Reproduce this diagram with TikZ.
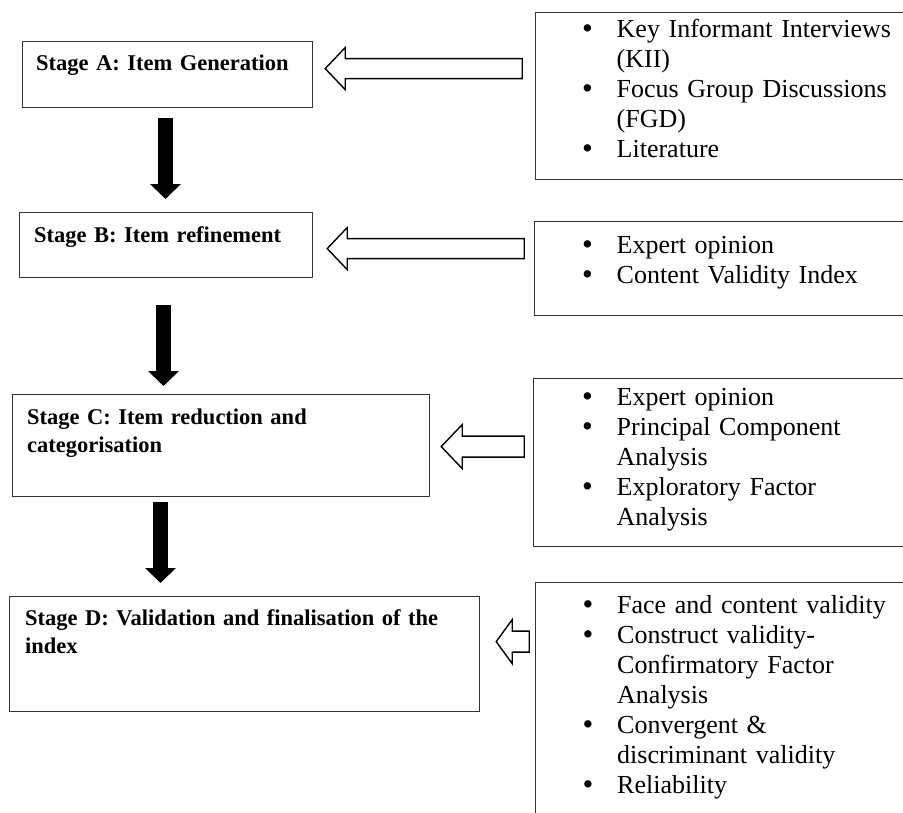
\documentclass[tikz,border=0pt]{standalone}
\usepackage{fontspec}
\setmainfont{Liberation Serif}
\usetikzlibrary{arrows.meta}
\tikzset{
  stagebox/.style={draw=black!80, line width=1.2pt, anchor=north west, inner sep=0pt},
  srcbox/.style={draw=black!80, line width=1.2pt, anchor=north west, inner sep=0pt},
  stagetext/.style={anchor=base west, inner sep=0pt, text width=460pt, align=left,
    font=\fontsize{22.5}{28}\selectfont\bfseries},
  srctext/.style={anchor=base west, inner sep=0pt, text width=330pt, align=left,
    font=\fontsize{26}{30}\selectfont},
  downarrow/.style={line width=15pt, -{Triangle[width=30pt,length=15pt]}},
  hollow/.style={draw=black, line width=1.4pt, fill=white, line join=miter}
}
\newcommand{\bul}{\makebox[34pt][l]{\hspace*{-0.5pt}\raisebox{-1.5pt}{\scalebox{1.18}{\textbullet}}}}
\newcommand{\indt}{\hspace*{34pt}}

\begin{document}
\begin{tikzpicture}[x=1pt,y=-1pt]
        \useasboundingbox (0,0) rectangle (903,812);
        \fill[white] (0,0) rectangle (903,812);
        \clip (0,0) rectangle (903,812);
        % stages
        \node[stagebox, minimum width=290, minimum height=66] (stageA) at (22,41) {};
        \node[stagebox, minimum width=293, minimum height=65] (stageB) at (19,212) {};
        \node[stagebox, minimum width=417, minimum height=102] (stageC) at (12,394) {};
        \node[stagebox, minimum width=470, minimum height=115] (stageD) at (9,596) {};
        \node[stagetext] (titleA) at (36,70) {Stage A: Item Generation};
        \node[stagetext] (titleB) at (34,242) {Stage B: Item refinement};
        \node[stagetext] (titleC) at (27,424) {Stage C: Item reduction and\\categorisation};
        \node[stagetext] (titleD) at (25,625) {Stage D: Validation and finalisation of the\\index};
        % sources
        \node[srcbox, minimum width=380, minimum height=167] (srcA) at (535,12) {};
        \node[srcbox, minimum width=380, minimum height=94] (srcB) at (534,221) {};
        \node[srcbox, minimum width=380, minimum height=168] (srcC) at (533,378) {};
        \node[srcbox, minimum width=380, minimum height=240] (srcD) at (535,582) {};
        \node[srctext] (listA) at (582.5,37) {\bul Key Informant Interviews\\\indt(KII)\\\bul Focus Group Discussions\\\indt(FGD)\\\bul Literature};
        \node[srctext] (listB) at (582.5,253) {\bul Expert opinion\\\bul Content Validity Index};
        \node[srctext] (listC) at (582.5,405) {\bul Expert opinion\\\bul Principal Component\\\indt Analysis\\\bul Exploratory Factor\\\indt Analysis};
        \node[srctext] (listD) at (583,613) {\bul Face and content validity\\\bul Construct validity-\\\indt Confirmatory Factor\\\indt Analysis\\\bul Convergent \&\\\indt discriminant validity\\\bul Reliability};
        % flow down
        \draw[downarrow] ([xshift=143.5pt,yshift=-10pt]stageA.south west) -- ([xshift=146.5pt,yshift=13pt]stageB.north west);
        \draw[downarrow] ([xshift=144.5pt,yshift=-27pt]stageB.south west) -- ([xshift=151.5pt,yshift=8pt]stageC.north west);
        \draw[downarrow] ([xshift=148.5pt,yshift=-5pt]stageC.south west) -- ([xshift=151.5pt,yshift=13pt]stageD.north west);
        % inputs
        \draw[hollow] ([xshift=12pt,yshift=6pt]stageA.east) -- ++(20,-21) -- ++(0,11) -- ++(177,0) -- ++(0,20) -- ++(-177,0) -- ++(0,11) -- cycle;
        \draw[hollow] ([xshift=14pt,yshift=-3.5pt]stageB.east) -- ++(20,-21) -- ++(0,11) -- ++(177,0) -- ++(0,20) -- ++(-177,0) -- ++(0,11) -- cycle;
        \draw[hollow] ([xshift=11pt,yshift=-1pt]stageC.east) -- ++(21,-22) -- ++(0,11.5) -- ++(62,0) -- ++(0,21) -- ++(-62,0) -- ++(0,11.5) -- cycle;
        \draw[hollow] ([xshift=16pt,yshift=12.5pt]stageD.east) -- ++(16,-22) -- ++(0,11.5) -- ++(17,0) -- ++(0,21) -- ++(-17,0) -- ++(0,11.5) -- cycle;
    \end{tikzpicture}
\end{document}
